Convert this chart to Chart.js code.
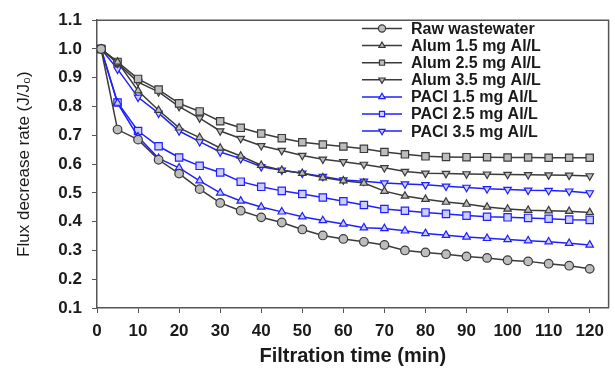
<!DOCTYPE html>
<html>
<head>
<meta charset="utf-8">
<script src="https://cdn.jsdelivr.net/npm/chart.js@4"></script>
<style>
  html, body { margin: 0; padding: 0; background: #fff; }
  #wrap { width: 615px; height: 372px; }
</style>
</head>
<body>
<div id="wrap"><canvas id="flux"></canvas></div>
<script>
// filtration time (min)
const time = [1, 5, 10, 15, 20, 25, 30, 35, 40, 45, 50, 55, 60, 65, 70, 75, 80, 85, 90, 95, 100, 105, 110, 115, 120];

// J/J0 per series
const raw_ww = [1.00, 0.72, 0.685, 0.615, 0.567, 0.513, 0.465, 0.438, 0.415, 0.397, 0.373, 0.352, 0.34, 0.33, 0.319, 0.300, 0.293, 0.287, 0.279, 0.274, 0.266, 0.262, 0.254, 0.247, 0.236];
const alum_15 = [1.00, 0.955, 0.855, 0.787, 0.726, 0.692, 0.656, 0.628, 0.596, 0.579, 0.568, 0.553, 0.542, 0.534, 0.506, 0.489, 0.478, 0.468, 0.461, 0.451, 0.444, 0.440, 0.438, 0.436, 0.432];
const alum_25 = [1.00, 0.955, 0.896, 0.859, 0.811, 0.783, 0.749, 0.726, 0.706, 0.690, 0.676, 0.668, 0.661, 0.653, 0.642, 0.634, 0.627, 0.625, 0.624, 0.624, 0.623, 0.623, 0.622, 0.622, 0.622];
const alum_35 = [1.00, 0.95, 0.885, 0.851, 0.800, 0.760, 0.715, 0.689, 0.664, 0.647, 0.630, 0.617, 0.608, 0.599, 0.587, 0.574, 0.568, 0.567, 0.566, 0.565, 0.564, 0.563, 0.562, 0.561, 0.559];
const pacl_15 = [1.00, 0.812, 0.695, 0.62, 0.587, 0.542, 0.500, 0.472, 0.451, 0.434, 0.417, 0.404, 0.392, 0.379, 0.376, 0.368, 0.359, 0.353, 0.347, 0.342, 0.338, 0.334, 0.330, 0.325, 0.319];
const pacl_25 = [1.00, 0.814, 0.715, 0.662, 0.623, 0.594, 0.571, 0.539, 0.521, 0.507, 0.496, 0.484, 0.471, 0.458, 0.444, 0.438, 0.432, 0.427, 0.421, 0.417, 0.415, 0.413, 0.410, 0.407, 0.406];
const pacl_35 = [1.00, 0.930, 0.832, 0.777, 0.715, 0.678, 0.642, 0.619, 0.591, 0.579, 0.568, 0.557, 0.545, 0.540, 0.534, 0.531, 0.528, 0.523, 0.519, 0.514, 0.512, 0.509, 0.508, 0.506, 0.500];

const series_labels = ["Raw wastewater", "Alum 1.5 mg Al/L", "Alum 2.5 mg Al/L", "Alum 3.5 mg Al/L", "PACl 1.5 mg Al/L", "PACl 2.5 mg Al/L", "PACl 3.5 mg Al/L"];

const BLACK = "#3a3a3a";
const BLACK_FILL = "#bdbdbd";
const BLUE = "#2020ff";
const BLUE_FILL = "#cdcdff";

function toPoints(values) {
  return values.map((v, i) => ({ x: time[i], y: v }));
}

function makeSet(label, values, color, fill, style, rotation) {
  return {
    label: label,
    data: toPoints(values),
    borderColor: color,
    backgroundColor: fill,
    borderWidth: 1.5,
    pointStyle: style,
    pointRotation: rotation || 0,
    pointRadius: style === "rect" ? 5.2 : 4.3,
    pointBorderWidth: 1.2,
    pointBorderColor: color,
    pointBackgroundColor: fill,
    tension: 0,
  };
}

// legend drawn inside the plot, line + marker sample
const insideLegend = {
  id: "insideLegend",
  afterDraw(chart) {
    const ctx = chart.ctx;
    ctx.save();
    chart.data.datasets.forEach((ds, i) => {
      const y = 28.5 + i * 17.1;
      ctx.strokeStyle = ds.borderColor;
      ctx.lineWidth = 1.5;
      ctx.beginPath();
      ctx.moveTo(362, y);
      ctx.lineTo(402, y);
      ctx.stroke();
      ctx.fillStyle = ds.pointBackgroundColor;
      ctx.lineWidth = 1.2;
      Chart.helpers.drawPoint(ctx, {
        pointStyle: ds.pointStyle,
        rotation: ds.pointRotation,
        radius: 3.6,
        borderWidth: 1.2,
      }, 382, y);
      ctx.fillStyle = "#1a1a1a";
      ctx.font = "bold 16px 'Liberation Sans', Arial, sans-serif";
      ctx.textBaseline = "middle";
      ctx.textAlign = "left";
      ctx.fillText(ds.label, 411, y + 1);
    });
    ctx.restore();
  },
};

// top and right edges of the frame
const frame = {
  id: "frame",
  afterDatasetsDraw(chart) {
    const a = chart.chartArea;
    const ctx = chart.ctx;
    ctx.save();
    ctx.strokeStyle = "#555555";
    ctx.lineWidth = 1.5;
    ctx.beginPath();
    ctx.moveTo(a.left, a.top);
    ctx.lineTo(a.right, a.top);
    ctx.lineTo(a.right, a.bottom);
    ctx.stroke();
    ctx.restore();
  },
};

new Chart(document.getElementById("flux"), {
  type: "line",
  data: {
    datasets: [
      makeSet(series_labels[0], raw_ww, BLACK, BLACK_FILL, "circle"),
      makeSet(series_labels[1], alum_15, BLACK, BLACK_FILL, "triangle"),
      makeSet(series_labels[2], alum_25, BLACK, BLACK_FILL, "rect"),
      makeSet(series_labels[3], alum_35, BLACK, BLACK_FILL, "triangle", 180),
      makeSet(series_labels[4], pacl_15, BLUE, BLUE_FILL, "triangle"),
      makeSet(series_labels[5], pacl_25, BLUE, BLUE_FILL, "rect"),
      makeSet(series_labels[6], pacl_35, BLUE, BLUE_FILL, "triangle", 180),
    ],
  },
  options: {
    responsive: true,
    maintainAspectRatio: false,
    animation: false,
    layout: {
      padding: { top: 14, right: 3, left: 0, bottom: 0 },
    },
    scales: {
      x: {
        type: "linear",
        min: 0,
        max: 124.6,
        afterFit: (axis) => { axis.height = 64; },
        grid: {
          drawOnChartArea: false,
          tickLength: 5,
          color: "#555555",
        },
        border: { color: "#555555", width: 1.5 },
        ticks: {
          stepSize: 10,
          includeBounds: false,
          padding: 8,
          color: "#1a1a1a",
          font: { family: "'Liberation Sans', Arial, sans-serif", size: 17, weight: "bold" },
          maxRotation: 0,
          autoSkip: false,
        },
        title: {
          display: true,
          text: "Filtration time (min)",
          color: "#1a1a1a",
          font: { family: "'Liberation Sans', Arial, sans-serif", size: 20, weight: "bold" },
          padding: { top: 0, bottom: 4 },
        },
      },
      y: {
        min: 0.1,
        max: 1.1,
        afterFit: (axis) => { axis.width = 97; },
        grid: {
          drawOnChartArea: false,
          tickLength: 5,
          color: "#555555",
        },
        border: { color: "#555555", width: 1.5 },
        ticks: {
          stepSize: 0.1,
          padding: 10,
          color: "#1a1a1a",
          font: { family: "'Liberation Sans', Arial, sans-serif", size: 17, weight: "bold" },
          callback: (v) => v.toFixed(1),
        },
        title: {
          display: true,
          text: "Flux decrease rate (J/J\u2080)",
          color: "#1a1a1a",
          font: { family: "'Liberation Sans', Arial, sans-serif", size: 17 },
          padding: { top: 14, bottom: 0 },
        },
      },
    },
    plugins: {
      legend: { display: false },
      tooltip: { enabled: false },
    },
  },
  plugins: [insideLegend, frame],
});
</script>
</body>
</html>
